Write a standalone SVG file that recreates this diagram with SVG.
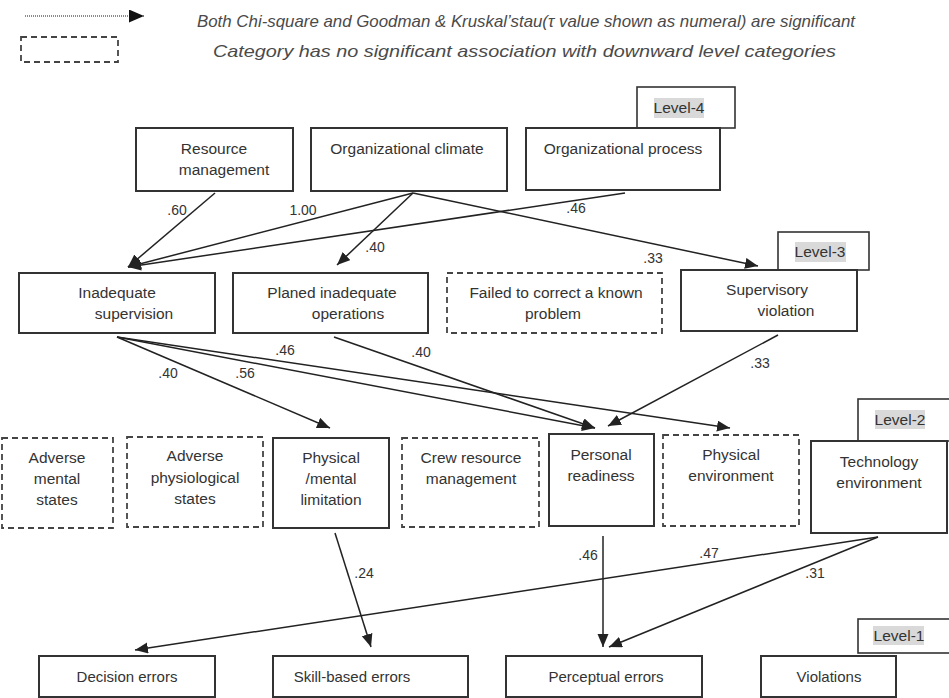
<svg xmlns="http://www.w3.org/2000/svg" width="949" height="698" viewBox="0 0 949 698">
<defs>
<marker id="ah" markerUnits="userSpaceOnUse" markerWidth="14" markerHeight="12" refX="13" refY="5.5" orient="auto">
<path d="M0,0 L13,5.5 L0,11 z" fill="#222"/>
</marker>
<marker id="ahl" markerUnits="userSpaceOnUse" markerWidth="16" markerHeight="14" refX="15" refY="6.5" orient="auto">
<path d="M0,0 L15,6.5 L0,13 z" fill="#111"/>
</marker>
<style>
.t{font-family:"Liberation Sans",Arial,sans-serif;font-size:15.5px;fill:#333;text-anchor:middle}
.b{font-size:15px}
.lab{font-family:"Liberation Sans",Arial,sans-serif;font-size:14px;fill:#333;text-anchor:middle}
.leg{font-family:"Liberation Sans",Arial,sans-serif;font-style:italic;font-size:17px;fill:#4a4a4a;text-anchor:start}
.box{fill:#fff;stroke:#333;stroke-width:2}
.dbox{fill:#fff;stroke:#444;stroke-width:1.8;stroke-dasharray:6,4}
.lvl{fill:#fff;stroke:#333;stroke-width:1.6}
.hl{fill:#d9d9d9}
.c{fill:none;stroke:#222;stroke-width:1.5;marker-end:url(#ah)}
</style>
</defs>
<rect width="949" height="698" fill="#fff"/>

<g id="legend">
<line x1="25" y1="16" x2="144" y2="16" stroke="#666" stroke-width="1.5" stroke-dasharray="1,1" marker-end="url(#ahl)"/>
<rect x="21" y="37" width="97" height="25" class="dbox"/>
<text class="leg" x="197" y="27" textLength="658" lengthAdjust="spacingAndGlyphs">Both Chi-square and Goodman &amp; Kruskal’stau(τ value shown as numeral) are significant</text>
<text class="leg" x="213" y="57" textLength="623" lengthAdjust="spacingAndGlyphs">Category has no significant association with downward level categories</text>
</g>

<g id="level-labels">
<g id="level4"><rect x="637" y="87" width="98" height="41" class="lvl"/><rect x="654" y="98" width="50" height="20" class="hl"/><text class="t" x="679" y="113">Level-4</text></g>
<g id="level3"><rect x="778" y="232" width="91" height="38" class="lvl"/><rect x="795" y="242" width="51" height="20" class="hl"/><text class="t" x="820" y="257">Level-3</text></g>
<g id="level2"><rect x="858" y="399" width="92" height="42" class="lvl"/><rect x="875" y="410" width="50" height="19" class="hl"/><text class="t" x="900" y="425">Level-2</text></g>
<g id="level1"><rect x="858" y="619" width="92" height="34" class="lvl"/><rect x="873" y="626" width="51" height="19" class="hl"/><text class="t" x="899" y="641">Level-1</text></g>
</g>

<g id="connectors">
<line class="c" x1="215" y1="193" x2="128" y2="267"/>
<line class="c" x1="413" y1="193" x2="128" y2="267"/>
<line class="c" x1="625" y1="193" x2="128" y2="267"/>
<line class="c" x1="413" y1="193" x2="337" y2="265"/>
<line class="c" x1="413" y1="193" x2="758" y2="266"/>
<line class="c" x1="117" y1="337" x2="330" y2="428"/>
<line class="c" x1="117" y1="337" x2="595" y2="428"/>
<line class="c" x1="117" y1="337" x2="730" y2="428"/>
<line class="c" x1="334" y1="337" x2="595" y2="428"/>
<line class="c" x1="778" y1="335" x2="608" y2="426"/>
<line class="c" x1="335" y1="533" x2="371" y2="647"/>
<line class="c" x1="603" y1="536" x2="603" y2="647"/>
<line class="c" x1="878" y1="537" x2="135" y2="650"/>
<line class="c" x1="878" y1="537" x2="609" y2="647"/>
<text class="lab" x="177" y="215">.60</text>
<text class="lab" x="303" y="215">1.00</text>
<text class="lab" x="576" y="213">.46</text>
<text class="lab" x="375" y="252">.40</text>
<text class="lab" x="653" y="263">.33</text>
<text class="lab" x="285" y="355">.46</text>
<text class="lab" x="168" y="378">.40</text>
<text class="lab" x="245" y="378">.56</text>
<text class="lab" x="421" y="357">.40</text>
<text class="lab" x="760" y="368">.33</text>
<text class="lab" x="364" y="578">.24</text>
<text class="lab" x="588" y="560">.46</text>
<text class="lab" x="709" y="558">.47</text>
<text class="lab" x="815" y="578">.31</text>
</g>

<g id="resource-management"><rect x="136" y="128" width="157" height="63" class="box"/><text class="t" x="214" y="154">Resource</text><text class="t" x="224" y="175">management</text></g>
<g id="organizational-climate"><rect x="311" y="128" width="196" height="63" class="box"/><text class="t" x="407" y="154">Organizational climate</text></g>
<g id="organizational-process"><rect x="526" y="128" width="194" height="62" class="box"/><text class="t" x="623" y="154">Organizational process</text></g>

<g id="inadequate-supervision"><rect x="19" y="273" width="196" height="60" class="box"/><text class="t" x="117" y="298">Inadequate</text><text class="t" x="134" y="319">supervision</text></g>
<g id="planed-inadequate-operations"><rect x="233" y="273" width="195" height="60" class="box"/><text class="t" x="332" y="298">Planed inadequate</text><text class="t" x="348" y="319">operations</text></g>
<g id="failed-to-correct"><rect x="447" y="273" width="215" height="60" class="dbox"/><text class="t" x="556" y="298">Failed to correct a known</text><text class="t" x="553" y="319">problem</text></g>
<g id="supervisory-violation"><rect x="681" y="270" width="176" height="61" class="box"/><text class="t" x="767" y="295">Supervisory</text><text class="t" x="786" y="316">violation</text></g>

<g id="adverse-mental-states"><rect x="2" y="438" width="111" height="90" class="dbox"/><text class="t" x="57" y="463">Adverse</text><text class="t" x="57" y="484">mental</text><text class="t" x="57" y="505">states</text></g>
<g id="adverse-physiological-states"><rect x="127" y="437" width="136" height="90" class="dbox"/><text class="t" x="195" y="461">Adverse</text><text class="t" x="195" y="483">physiological</text><text class="t" x="195" y="504">states</text></g>
<g id="physical-mental-limitation"><rect x="273" y="438" width="116" height="90" class="box" stroke-width="2.5"/><text class="t" x="331" y="463">Physical</text><text class="t" x="331" y="484">/mental</text><text class="t" x="331" y="505">limitation</text></g>
<g id="crew-resource-management"><rect x="402" y="438" width="137" height="89" class="dbox"/><text class="t" x="471" y="463">Crew resource</text><text class="t" x="471" y="484">management</text></g>
<g id="personal-readiness"><rect x="549" y="434" width="105" height="92" class="box" stroke-width="2.5"/><text class="t" x="601" y="460">Personal</text><text class="t" x="601" y="481">readiness</text></g>
<g id="physical-environment"><rect x="663" y="435" width="136" height="91" class="dbox"/><text class="t" x="731" y="460">Physical</text><text class="t" x="731" y="481">environment</text></g>
<g id="technology-environment"><rect x="811" y="441" width="136" height="92" class="box" stroke-width="2.5"/><text class="t" x="879" y="467">Technology</text><text class="t" x="879" y="488">environment</text></g>

<g id="decision-errors"><rect x="39" y="656" width="176" height="41" class="box"/><text class="t b" x="127" y="682">Decision errors</text></g>
<g id="skill-based-errors"><rect x="273" y="656" width="195" height="41" class="box"/><text class="t b" x="352" y="682">Skill-based errors</text></g>
<g id="perceptual-errors"><rect x="506" y="656" width="196" height="41" class="box"/><text class="t b" x="606" y="682">Perceptual errors</text></g>
<g id="violations"><rect x="761" y="656" width="135" height="41" class="box"/><text class="t b" x="829" y="682">Violations</text></g>
</svg>
